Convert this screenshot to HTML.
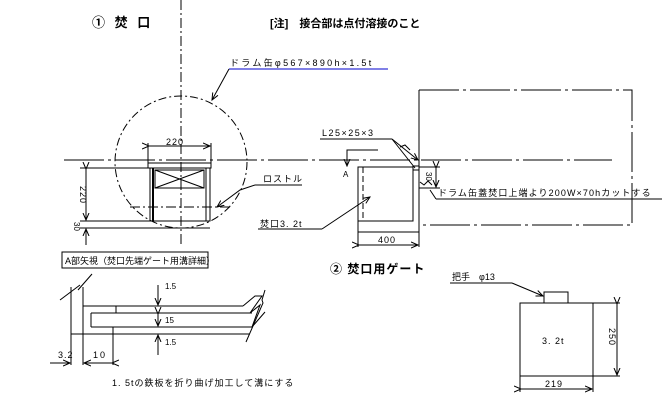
<!DOCTYPE html>
<html><head><meta charset="utf-8"><style>
html,body{margin:0;padding:0;background:#fff;}
svg{display:block;}
text{font-family:"Liberation Sans","Noto Sans CJK JP",sans-serif;fill:#000;}
</style></head><body>
<svg width="662" height="404" viewBox="0 0 662 404" xmlns="http://www.w3.org/2000/svg" stroke="#000" stroke-width="1" fill="none">
<defs>
<marker id="a" markerWidth="8" markerHeight="8" refX="7" refY="4" orient="auto"><path d="M0,1 L7,4 L0,7" stroke="#000" fill="none"/></marker>
</defs>
<text x="92" y="27" font-size="13" font-weight="bold" stroke="none" letter-spacing="3">①  焚  口</text>
<text x="270" y="27" font-size="11" font-weight="bold" stroke="none">[注]　接合部は点付溶接のこと</text>

<line x1="181" y1="0" x2="181" y2="246" stroke-dasharray="10,3,2,3"/>
<line x1="64" y1="160" x2="612" y2="160" stroke-dasharray="40,4,3,4"/>
<circle cx="181" cy="162" r="66" stroke-dasharray="8,3,2,3"/>

<text x="230" y="66" font-size="9" stroke="none" letter-spacing="2.3">ドラム缶φ567×890h×1.5t</text>
<line x1="229" y1="69" x2="388" y2="69" stroke="#0000cc"/>
<polyline points="229,69 212,100" marker-end="url(#a)"/>

<line x1="148" y1="143" x2="148" y2="163"/>
<line x1="211" y1="143" x2="211" y2="163"/>
<line x1="149" y1="146" x2="210" y2="146" marker-end="url(#a)" marker-start="url(#a)"/>
<text x="166" y="145" font-size="9" stroke="none" letter-spacing="1">220</text>

<rect x="148" y="163" width="63" height="5"/>
<rect x="150" y="168" width="60" height="53"/>
<line x1="153" y1="168" x2="153" y2="221" stroke-width="2"/>
<line x1="206" y1="168" x2="206" y2="221"/>
<rect x="155" y="170" width="49" height="18"/>
<line x1="155" y1="170" x2="204" y2="188"/>
<line x1="155" y1="188" x2="204" y2="170"/>
<line x1="130" y1="207" x2="230" y2="207" stroke-dasharray="10,3,2,3"/>

<line x1="80" y1="168" x2="150" y2="168"/>
<line x1="80" y1="221" x2="210" y2="221"/>
<line x1="80" y1="228" x2="210" y2="228"/>
<line x1="86" y1="169" x2="86" y2="220" marker-end="url(#a)" marker-start="url(#a)"/>
<line x1="86" y1="245" x2="86" y2="229" marker-end="url(#a)"/>
<text transform="translate(80,186) rotate(90)" font-size="9" stroke="none" letter-spacing="1">220</text>
<text transform="translate(74,222) rotate(90)" font-size="8" stroke="none">30</text>

<text x="263" y="182" font-size="9" stroke="none" letter-spacing="1">ロストル</text>
<line x1="255" y1="185" x2="302" y2="185"/>
<polyline points="255,185 240,190 217,207" marker-end="url(#a)"/>
<text x="260" y="227" font-size="9" stroke="none" letter-spacing="1">焚口3. 2t</text>
<line x1="258" y1="229" x2="322" y2="229"/>
<polyline points="322,229 370,197" marker-end="url(#a)"/>

<rect x="358" y="167" width="55" height="54"/>
<line x1="363" y1="167" x2="363" y2="221" stroke-dasharray="6,3"/>
<line x1="419" y1="90" x2="419" y2="232"/>
<line x1="358" y1="221" x2="358" y2="247"/>
<line x1="358" y1="232" x2="419" y2="232"/>
<line x1="419" y1="232" x2="419" y2="247"/>
<line x1="359" y1="245" x2="418" y2="245" marker-end="url(#a)" marker-start="url(#a)"/>
<text x="378" y="243" font-size="9" stroke="none" letter-spacing="1">400</text>
<rect x="413" y="166" width="6" height="4"/>
<polyline points="419,90 632,90 632,225 419,225" stroke-dasharray="40,4,3,4"/>
<polyline points="378,150 347,150 347,166" marker-end="url(#a)"/>
<text x="343" y="177" font-size="8" stroke="none">A</text>
<text x="322" y="136" font-size="9" stroke="none" letter-spacing="1.5">L25×25×3</text>
<line x1="320" y1="139" x2="392" y2="139"/>
<polyline points="392,139 418,160" marker-end="url(#a)"/>
<polyline points="392,139 415,168"/>
<polyline points="400,147 405,145 410,150"/>
<line x1="419" y1="167" x2="440" y2="167"/>
<line x1="419" y1="188" x2="440" y2="188"/>
<line x1="436" y1="168" x2="436" y2="187" marker-end="url(#a)" marker-start="url(#a)"/>
<text transform="translate(426,172) rotate(90)" font-size="8" stroke="none">30</text>
<polyline points="420,182 424,185 428,181 432,185"/>
<text x="438" y="196" font-size="9" stroke="none" letter-spacing="1.1">ドラム缶蓋焚口上端より200W×70hカットする</text>
<line x1="436" y1="199" x2="662" y2="199"/>
<line x1="430" y1="190" x2="436" y2="199"/>

<rect x="62" y="252" width="146" height="16"/>
<text x="65" y="264" font-size="9" stroke="none">A部矢視（焚口先端ゲート用溝詳細）</text>
<text x="330" y="273" font-size="12" font-weight="bold" stroke="none" letter-spacing="1">②  焚口用ゲート</text>

<line x1="71" y1="287" x2="71" y2="365"/>
<line x1="83" y1="287" x2="83" y2="365"/>
<line x1="60" y1="300" x2="80" y2="285"/>
<line x1="78" y1="290" x2="92" y2="274"/>
<line x1="83" y1="306" x2="243" y2="306"/>
<line x1="91" y1="313" x2="252" y2="313"/>
<line x1="91" y1="327" x2="252" y2="327"/>
<line x1="91" y1="313" x2="91" y2="327"/>
<line x1="71" y1="334" x2="250" y2="334"/>
<line x1="116" y1="306" x2="116" y2="313"/>
<line x1="113" y1="327" x2="113" y2="365"/>
<line x1="158" y1="285" x2="158" y2="305" marker-end="url(#a)"/>
<line x1="158" y1="314" x2="158" y2="326" marker-end="url(#a)" marker-start="url(#a)"/>
<line x1="158" y1="355" x2="158" y2="335" marker-end="url(#a)"/>
<text x="165" y="289" font-size="8" stroke="none">1.5</text>
<text x="165" y="323" font-size="8" stroke="none">15</text>
<text x="165" y="345" font-size="8" stroke="none">1.5</text>
<polyline points="246,342 263,303 262,300 265,290"/>
<polyline points="243,306 255,296 262,296 250,313 260,305 252,327 265,312"/>
<line x1="50" y1="363" x2="70" y2="363" marker-end="url(#a)"/>
<line x1="112" y1="363" x2="84" y2="363" marker-end="url(#a)" marker-start="url(#a)"/>
<text x="58" y="358" font-size="9" stroke="none" letter-spacing="1">3.2</text>
<text x="93" y="358" font-size="9" stroke="none" letter-spacing="2">10</text>
<text x="112" y="386" font-size="9" stroke="none" letter-spacing="1">1. 5tの鉄板を折り曲げ加工して溝にする</text>

<text x="452" y="280" font-size="9" stroke="none">把手　φ13</text>
<line x1="450" y1="283" x2="512" y2="283"/>
<polyline points="512,283 543,296" marker-end="url(#a)"/>
<rect x="544" y="292" width="24" height="11"/>
<rect x="520" y="303" width="73" height="73"/>
<line x1="593" y1="303" x2="620" y2="303"/>
<line x1="593" y1="376" x2="620" y2="376"/>
<line x1="617" y1="304" x2="617" y2="375" marker-end="url(#a)" marker-start="url(#a)"/>
<text transform="translate(609,328) rotate(90)" font-size="9" stroke="none" letter-spacing="1">250</text>
<line x1="520" y1="376" x2="520" y2="392"/>
<line x1="593" y1="376" x2="593" y2="392"/>
<line x1="521" y1="389" x2="592" y2="389" marker-end="url(#a)" marker-start="url(#a)"/>
<text x="545" y="387" font-size="9" stroke="none" letter-spacing="1">219</text>
<text x="542" y="344" font-size="9" stroke="none" letter-spacing="1">3. 2t</text>
</svg>
</body></html>
